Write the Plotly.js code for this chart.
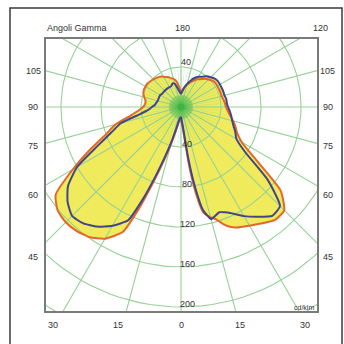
<!DOCTYPE html>
<html><head><meta charset="utf-8">
<script src="https://cdn.plot.ly/plotly-3.0.1.min.js"></script>
<style>html,body{margin:0;padding:0;background:#fff;}#chart{width:344px;height:344px;}</style>
</head><body><div id="chart"></div>
<script>
// Gamma angles (deg, 0 = straight down, 180 = straight up)
const gamma = [0,5,8,10,12,15,17.5,20,22.5,25,30,35,40,45,50,55,60,65,70,75,80,85,90,95,100,105,110,115,120,125,130,135,140,145,150,155,160,165,170,175,180];
// Luminous intensity, cd/klm
const orangeLeft  = [12,13,15,18,24,38,55,78,110,138,152,159,162,163,161,153,125,100,80,68,52,43,38,36,36,38,40,41,41,41,40,39,38,37,35,33,31,29,26,20,14];
const blueLeft    = [10,11,13,16,21,34,50,72,100,125,137,146,152,154,148,138,120,92,74,62,42,33,29,26,25,24,24,24,24,23,23,23,23,23,23,23,25,24,19,15,13];
const orangeRight = [12,22,60,90,108,114,118,125,130,133,137,142,147,146,130,91,70,62,58,54,50,47,45,44,43,42,42,42,42,42,41,39,37,34,32,29,26,23,20,17,14];
const blueRight   = [10,18,52,82,105,116,114,112,114,117,126,134,142,140,113,78,64,60,56,53,51,49,47,46,46,45,45,45,45,45,44,42,40,37,35,32,28,24,20,16,13];

const ringValues = [40,80,120,160,200,240,280,320];
const ringLabelValues = [40,80,120,160,200];
const spokeStep = 15;
const burstStep = 5;
const sideLabels = ['105','90','75','60','45'];
const bottomLabels = ['30','15','0','15','30'];

// layout geometry (pixels of the 344x344 page)
const L = 46, R = 317, T = 39, B = 311;
const px = (x) => (x - L) / (R - L);
const py = (y) => (B - y) / (B - T);
const sideY = [71,107,146,195,257];
const bottomX = [53,118,181,240,305];

const rad = d => d * Math.PI / 180;
function lobe(left, right) {
  const xs = [], ys = [];
  for (let i = 0; i < gamma.length; i++) { xs.push(-left[i]*Math.sin(rad(gamma[i]))); ys.push(-left[i]*Math.cos(rad(gamma[i]))); }
  for (let i = gamma.length-1; i >= 0; i--) { xs.push(right[i]*Math.sin(rad(gamma[i]))); ys.push(-right[i]*Math.cos(rad(gamma[i]))); }
  xs.push(xs[0]); ys.push(ys[0]);
  return {xs, ys};
}
const orange = lobe(orangeLeft, orangeRight);
const blue = lobe(blueLeft, blueRight);

const FILL = '#efeb5c', GRID = '#97d197';
const SM = 0.5;
const traces = [];
traces.push({x: orange.xs, y: orange.ys, mode: 'lines', fill: 'toself', fillcolor: FILL, line: {width: 0, shape: 'spline', smoothing: SM}, hoverinfo: 'skip'});
traces.push({x: blue.xs, y: blue.ys, mode: 'lines', fill: 'toself', fillcolor: FILL, line: {width: 0, shape: 'spline', smoothing: SM}, hoverinfo: 'skip'});

// rings
let rx = [], ry = [];
ringValues.forEach(r => { for (let a = 0; a <= 360; a += 3) { rx.push(r*Math.cos(rad(a))); ry.push(r*Math.sin(rad(a))); } rx.push(null); ry.push(null); });
traces.push({x: rx, y: ry, mode: 'lines', line: {color: GRID, width: 1.1}, hoverinfo: 'skip'});
// spokes
let sx = [], sy = [];
for (let a = 0; a < 360; a += spokeStep) { sx.push(0, 500*Math.cos(rad(a)), null); sy.push(0, 500*Math.sin(rad(a)), null); }
traces.push({x: sx, y: sy, mode: 'lines', line: {color: GRID, width: 1.1}, hoverinfo: 'skip'});
// centre starburst
let bx = [], by = [], cx = [], cy = [];
for (let a = 0; a < 360; a += burstStep) {
  bx.push(0, 38*Math.cos(rad(a)), null); by.push(0, 38*Math.sin(rad(a)), null);
  cx.push(0, 12*Math.cos(rad(a)), null); cy.push(0, 12*Math.sin(rad(a)), null);
}
traces.push({x: bx, y: by, mode: 'lines', line: {color: 'rgba(120,205,120,0.22)', width: 1}, hoverinfo: 'skip'});
traces.push({x: cx, y: cy, mode: 'lines', line: {color: 'rgba(70,185,70,0.45)', width: 1}, hoverinfo: 'skip'});
traces.push({x: [0], y: [0], mode: 'markers', marker: {color: 'rgba(60,180,60,0.7)', size: 7}, hoverinfo: 'skip'});

traces.push({x: orange.xs, y: orange.ys, mode: 'lines', line: {color: '#e4672a', width: 2, shape: 'spline', smoothing: SM}, hoverinfo: 'skip'});
traces.push({x: blue.xs, y: blue.ys, mode: 'lines', line: {color: '#43458a', width: 2, shape: 'spline', smoothing: SM}, hoverinfo: 'skip'});

const F = {family: 'Liberation Sans, Arial, sans-serif', size: 9, color: '#333'};
const ann = [];
const addP = (text, x, y, xa, font) => ann.push({text, x: px(x), y: py(y), xref: 'paper', yref: 'paper', showarrow: false, xanchor: xa || 'center', yanchor: 'middle', font: font || F});
addP('Angoli Gamma', 45, 28, 'left');
addP('180', 182, 28);
addP('120', 320, 28);
sideLabels.forEach((t, i) => { addP(t, 33, sideY[i]); addP(t, 328, sideY[i]); });
bottomLabels.forEach((t, i) => addP(t, bottomX[i], 325));
addP('cd/klm', 316, 307, 'right', {family: F.family, size: 7, color: '#333'});
// ring labels (data coords)
ann.push({text: String(ringLabelValues[0]), x: 5, y: ringLabelValues[0] + 5, showarrow: false, font: F});
ringLabelValues.forEach(r => ann.push({text: String(r), x: 6, y: -(r - 3), showarrow: false, font: F}));

const layout = {
  width: 344, height: 344,
  margin: {l: L, r: 344 - R, t: T, b: 344 - B},
  paper_bgcolor: '#fff', plot_bgcolor: '#fff',
  showlegend: false,
  xaxis: {range: [-135, 136], showgrid: false, zeroline: false, showticklabels: false, ticks: '', showline: true, mirror: true, linecolor: '#7a7a7a', linewidth: 2, fixedrange: true},
  yaxis: {range: [-204, 68], showgrid: false, zeroline: false, showticklabels: false, ticks: '', showline: true, mirror: true, linecolor: '#7a7a7a', linewidth: 2, fixedrange: true},
  annotations: ann,
  shapes: [{type: 'rect', xref: 'paper', yref: 'paper', x0: px(10), x1: px(342), y0: py(360), y1: py(8), line: {color: '#3a3a3a', width: 1.5}}]
};
Plotly.newPlot('chart', traces, layout, {staticPlot: true, displayModeBar: false});
</script></body></html>
